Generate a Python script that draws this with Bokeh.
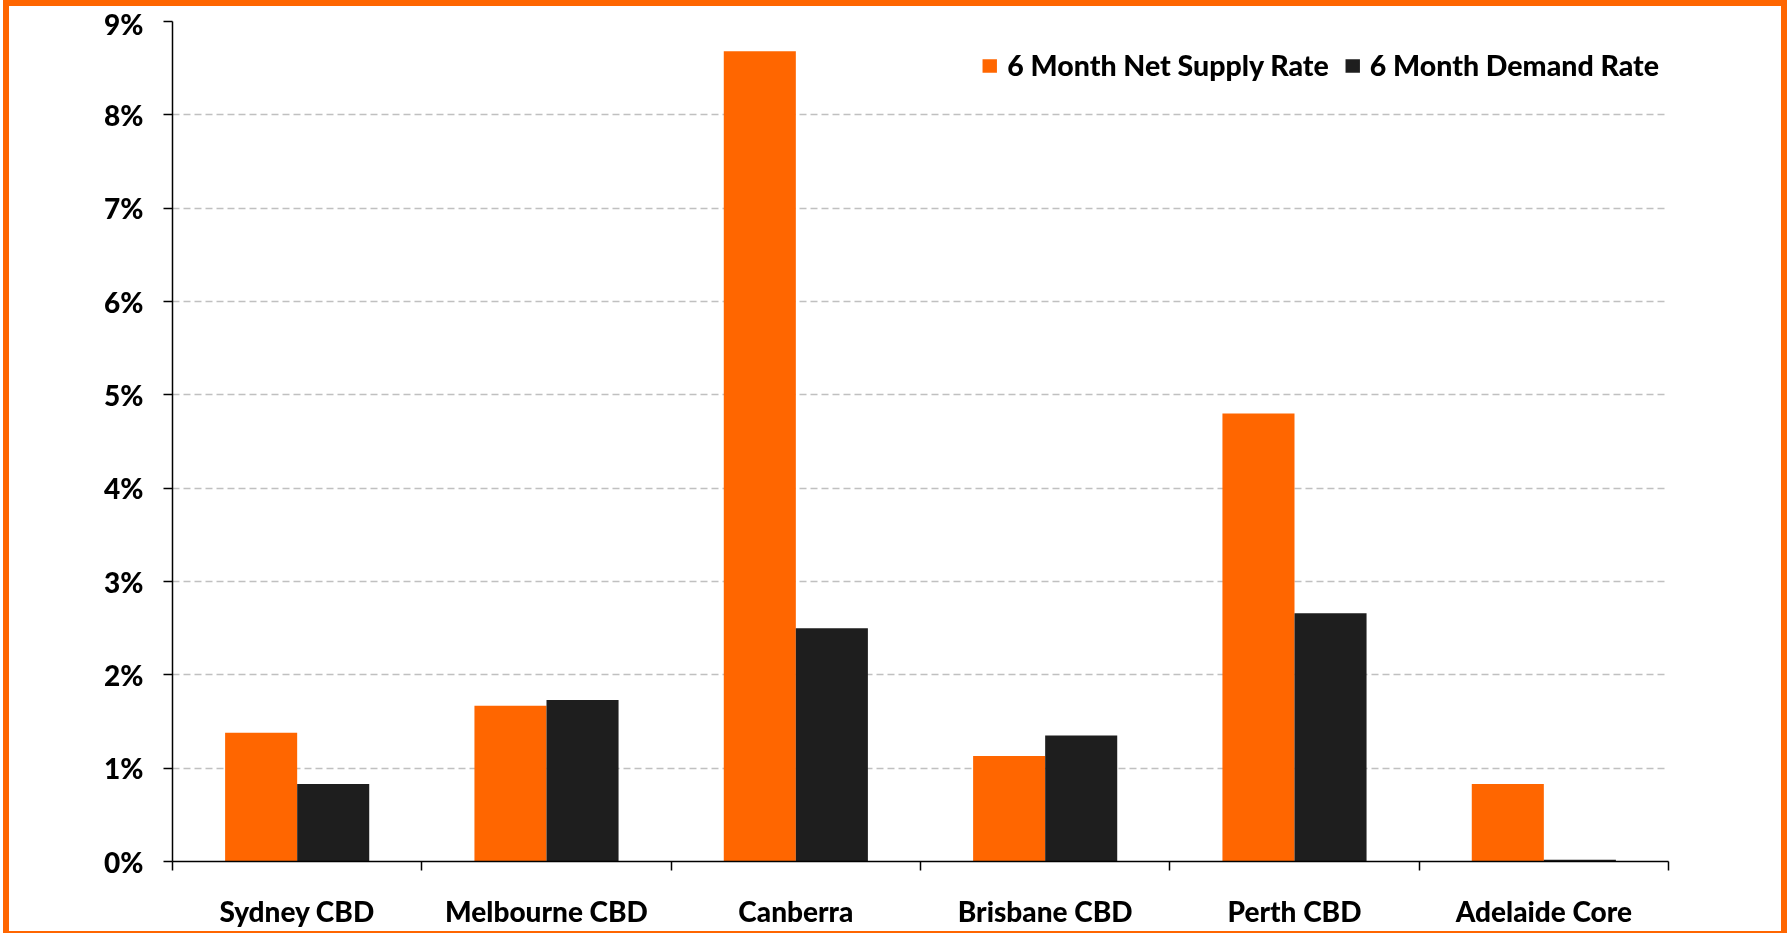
from bokeh.plotting import figure
from bokeh.models import (Range1d, FixedTicker, PrintfTickFormatter, Legend, LegendItem)
from bokeh.transform import dodge
from bokeh.embed import file_html
from bokeh.resources import INLINE

# ---- data ----
categories = ["Sydney CBD", "Melbourne CBD", "Canberra", "Brisbane CBD", "Perth CBD", "Adelaide Core"]
supply_rate = [1.38, 1.67, 8.68, 1.13, 4.80, 0.83]   # 6 Month Net Supply Rate (%)
demand_rate = [0.83, 1.73, 2.50, 1.35, 2.66, 0.02]   # 6 Month Demand Rate (%)
y_ticks = [0, 1, 2, 3, 4, 5, 6, 7, 8, 9]
series_names = ["6 Month Net Supply Rate", "6 Month Demand Rate"]

ORANGE = "#FF6600"
DARK = "#1E1E1E"
FONT = "Lato Black"
FSIZE = "28px"

pos = [i + 1 for i in range(len(categories))]
bounds = [i + 0.5 for i in range(len(categories) + 1)]

p = figure(width=1772, height=925, output_backend="svg", toolbar_location=None,
           x_range=Range1d(0.5, len(categories) + 0.5), y_range=Range1d(0, 9),
           min_border_left=163, min_border_right=125, min_border_top=15, min_border_bottom=82,
           styles={"position": "fixed", "left": "3px", "top": "0px",
                   "border": "6px solid #FF6600", "box-sizing": "content-box"})
p.outline_line_color = None
p.background_fill_color = "white"
p.border_fill_color = "white"

src = dict(x=pos, supply=supply_rate, demand=demand_rate)
r1 = p.vbar(x=dodge("x", -0.1445, range=p.x_range), top="supply", width=0.289,
            source=src, fill_color=ORANGE, line_color=None)
r2 = p.vbar(x=dodge("x", 0.1445, range=p.x_range), top="demand", width=0.289,
            source=src, fill_color=DARK, line_color=None)

# grid
p.xgrid.grid_line_color = None
p.ygrid.grid_line_color = "#C0C0C0"
p.ygrid.grid_line_dash = "7 4"
p.ygrid.grid_line_width = 1.5

# y axis
ya = p.yaxis[0]
ya.ticker = FixedTicker(ticks=y_ticks)
ya.formatter = PrintfTickFormatter(format="%d%%")
ya.axis_line_color = "#000000"
ya.axis_line_width = 1.5
ya.major_tick_line_color = "#000000"
ya.major_tick_line_width = 1.5
ya.major_tick_out = 9
ya.major_tick_in = 0
ya.minor_tick_line_color = None
ya.major_label_text_font = FONT
ya.major_label_text_font_style = "normal"
ya.major_label_text_font_size = FSIZE
ya.major_label_text_color = "#000000"
ya.major_label_standoff = 20

# x axis: labels at centres, ticks at category boundaries
xa = p.xaxis[0]
xa.ticker = FixedTicker(ticks=pos, minor_ticks=bounds)
xa.major_label_overrides = {k: v for k, v in zip(pos, categories)}
xa.axis_line_color = "#000000"
xa.axis_line_width = 1.5
xa.major_tick_line_color = None
xa.major_tick_out = 0
xa.major_tick_in = 0
xa.minor_tick_line_color = "#000000"
xa.minor_tick_line_width = 1.5
xa.minor_tick_out = 9
xa.minor_tick_in = 0
xa.major_label_text_font = FONT
xa.major_label_text_font_style = "normal"
xa.major_label_text_font_size = FSIZE
xa.major_label_text_color = "#000000"
xa.major_label_standoff = 23

legend = Legend(items=[LegendItem(label=series_names[0], renderers=[r1]),
                       LegendItem(label=series_names[1], renderers=[r2])],
                orientation="horizontal", location="top_right")
legend.label_text_font = FONT
legend.label_text_font_style = "normal"
legend.label_text_font_size = "28.5px"
legend.label_text_color = "#000000"
legend.glyph_width = 18
legend.glyph_height = 17
legend.label_standoff = 9
legend.label_height = 70
legend.spacing = 14
legend.padding = 0
legend.margin = 9
legend.border_line_color = None
legend.background_fill_alpha = 0
p.add_layout(legend)

open("out.html", "w").write(file_html(p, INLINE))
